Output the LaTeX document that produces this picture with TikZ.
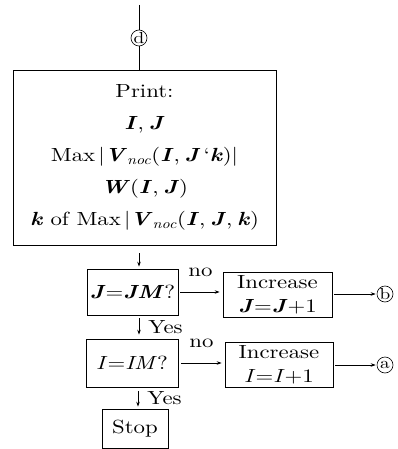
\documentclass[tikz,border=0pt]{standalone}
\usepackage{fontspec}
\setmainfont{lmroman10}[Extension=.otf, UprightFont=*-regular, BoldFont=*-bold, ItalicFont=*-italic, BoldItalicFont=*-bolditalic, FakeStretch=1.2]
\usetikzlibrary{arrows.meta}
\newcommand\mybi[1]{\textbf{\textit{#1}}}
\newcommand\myit[1]{\textit{#1}}
\newcommand\mysub[1]{\textsubscript{\textit{#1}}}
\newcommand\mysp{\hspace{0.25em}}
\begin{document}
\begin{tikzpicture}[x=1pt,y=-1pt,
  font=\fontsize{19}{32}\selectfont,
  box/.style={draw, line width=0.7pt, inner sep=0pt, align=center},
  conn/.style={line width=0.7pt, -{Stealth[length=5pt,width=3.5pt]}},
  plain/.style={line width=0.7pt},
  circ/.style={draw, circle, line width=0.6pt, minimum size=16pt, inner sep=0pt, font=\fontsize{16}{16}\selectfont},
  lbl/.style={inner sep=0pt}]
\useasboundingbox (0,0) rectangle (398,449);
\fill[white] (0,0) rectangle (398,449);
\coordinate (top) at (139,5);
\node[circ] (d) at (139,38) {d};
\node[box, minimum width=263pt, minimum height=175pt] (pb) at (144.5,157.5)
  {Print:\\ \mybi{I},\mysp\mybi{J}\\ Max\,|\mybi{V}\mysub{noc}(\mybi{I},\mysp\mybi{J}\,‘\mybi{k})|\\ \mybi{W}(\mybi{I},\mysp\mybi{J})\\ \mybi{k} of Max\,|\mybi{V}\mysub{noc}(\mybi{I},\mysp\mybi{J},\mysp\mybi{k})};
\node[box, minimum width=91pt, minimum height=46pt] (jb) at (132.5,292) {\mybi{J}=\mybi{JM}?};
\node[box, minimum width=109pt, minimum height=45pt] (ij) at (277.5,294.5) {Increase\\[-8pt] \mybi{J}=\mybi{J}+1};
\node[box, minimum width=92pt, minimum height=48pt] (ib) at (132,363) {\myit{I}=\myit{IM}?};
\node[box, minimum width=108pt, minimum height=45pt] (ii) at (279,364.5) {Increase\\[-8pt] \myit{I}=\myit{I}+1};
\node[box, minimum width=66pt, minimum height=39pt] (st) at (135,428.5) {Stop};
\node[circ] (b) at (385,294) {b};
\node[circ] (a) at (385,365) {a};
\draw[plain] (top) -- (d.north);
\draw[plain] (d.south) -- (pb.north -| d);
\draw[conn, shorten <=8pt, shorten >=2pt] (pb.south -| d) -- (jb.north -| d);
\draw[conn, shorten <=3pt, shorten >=4pt] (jb.south -| d) -- node[lbl, right=9pt] {Yes} (ib.north -| d);
\draw[conn, shorten <=4pt, shorten >=2pt] (ib.south -| st) ++(3pt,0) coordinate (ys) (ys) -- node[lbl, right=9pt] {Yes} (st.north -| ys);
\draw[conn, shorten <=2pt, shorten >=3pt] (jb.east) -- node[lbl, above=15pt] {no} (jb.east -| ij.west);
\draw[conn, shorten <=3pt, shorten >=3pt] (ib.east) -- node[lbl, above=15pt] {no} (ib.east -| ii.west);
\draw[conn, shorten <=2pt, shorten >=1pt] (ij.east |- b) -- (b.west);
\draw[conn, shorten <=2pt, shorten >=1pt] (ii.east |- a) -- (a.west);
\end{tikzpicture}
\end{document}
